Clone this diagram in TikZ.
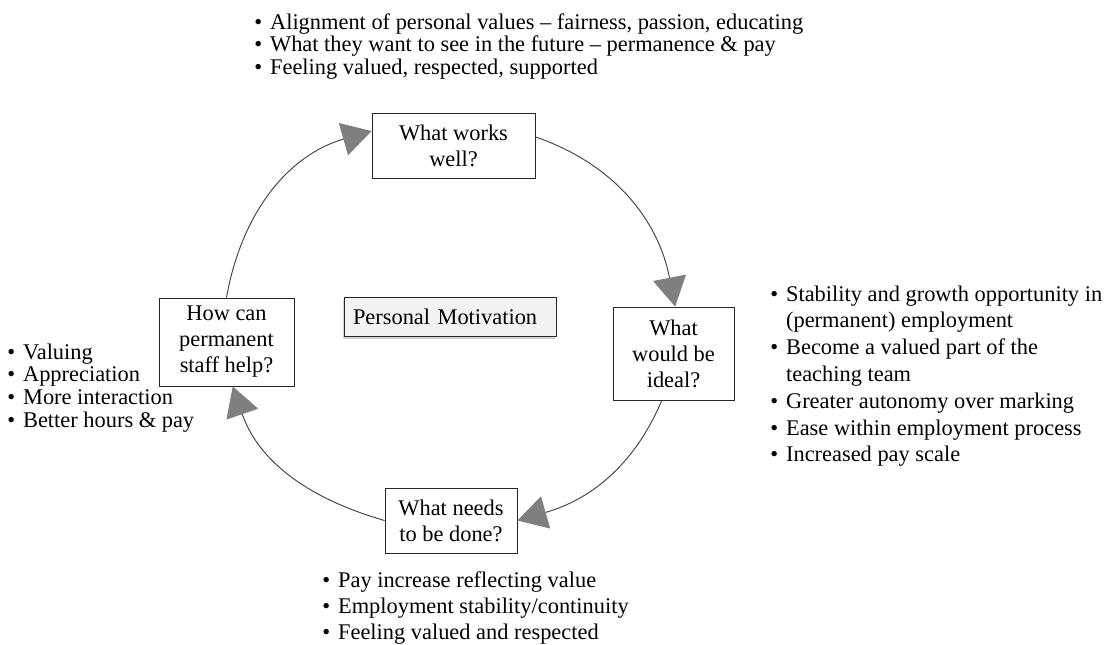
\documentclass[tikz,border=0pt]{standalone}
\usepackage{fontspec}
\setmainfont{Liberation Serif}
\usetikzlibrary{arrows.meta,shadows}
\definecolor{linegray}{HTML}{404040}
\definecolor{tipgray}{HTML}{7F7F7F}
\definecolor{boxfill}{HTML}{F2F2F2}
\newcommand{\bl}{\textbullet}

\begin{document}
\begin{tikzpicture}[x=0.75pt,y=0.75pt]
    \tikzstyle{every node} = [rectangle, font=\fontsize{16.8}{19.5}\selectfont]
    \tikzstyle{stage} = [draw=black!85, line width=0.6pt, align=center, inner sep=0pt]
    \tikzstyle{notes} = [anchor=base west, inner sep=0pt, align=left]
    \tikzstyle{tight} = [notes, font=\fontsize{16.8}{17}\selectfont]
    \tikzstyle{loose} = [notes, font=\fontsize{16.8}{20.1}\selectfont]
    \tikzstyle{cyc} = [linegray, line width=0.7pt, -{Triangle[length=22pt,width=25pt,color=tipgray]}]
    \useasboundingbox (0,0) rectangle (1109,-644);
    % the four stages
    \node[stage, minimum width=122.25pt, minimum height=48.75pt] (works) at (453.5,-145.5) {What works\\well?};
    \node[stage, minimum width=90.75pt, minimum height=69.75pt] (ideal) at (673.5,-353.5) {What\\would be\\ideal?};
    \node[stage, minimum width=99pt, minimum height=48.75pt] (done) at (451,-520.5) {What needs\\to be done?};
    \node[stage, minimum width=101.25pt, minimum height=66pt] (help) at (226.5,-342) {How can\\permanent\\staff help?};
    \node[draw=black!85, line width=0.6pt, fill=boxfill, text width=145.5pt, align=left, inner xsep=6.75pt,
          minimum height=29.25pt, drop shadow={opacity=0.35, shadow xshift=-0.6pt, shadow yshift=-2pt}]
          (motiv) at (450,-316.5) {Personal Motivation};
    % cycle
    \foreach \from/\to/\o/\i in {works.6/ideal.88/-19/101, ideal.256/done.east/-113/16,
                                 done.west/help.278/164/-71, help.north/works.170/80/-164}
        \draw[cyc] (\from) to[out=\o,in=\i] (\to);
    % notes
    \node[tight] (worksnotes) at (254,-29) {\begin{tabular}[t]{@{}l@{\hspace{6pt}}l@{}}
        \bl & Alignment of personal values – fairness, passion, educating\\
        \bl & What they want to see in the future – permanence \& pay\\
        \bl & Feeling valued, respected, supported
    \end{tabular}};
    \node[loose] (idealnotes) at (770,-301) {\begin{tabular}[t]{@{}l@{\hspace{6pt}}l@{}}
        \bl & Stability and growth opportunity in\\
            & (permanent) employment\\
        \bl & Become a valued part of the\\
            & teaching team\\
        \bl & Greater autonomy over marking\\
        \bl & Ease within employment process\\
        \bl & Increased pay scale
    \end{tabular}};
    \node[notes] (donenotes) at (322,-587) {\begin{tabular}[t]{@{}l@{\hspace{6pt}}l@{}}
        \bl & Pay increase reflecting value\\
        \bl & Employment stability/continuity\\
        \bl & Feeling valued and respected
    \end{tabular}};
    \node[tight] (helpnotes) at (7,-359) {\begin{tabular}[t]{@{}l@{\hspace{6pt}}l@{}}
        \bl & Valuing\\
        \bl & Appreciation\\
        \bl & More interaction\\
        \bl & Better hours \& pay
    \end{tabular}};
\end{tikzpicture}
\end{document}
